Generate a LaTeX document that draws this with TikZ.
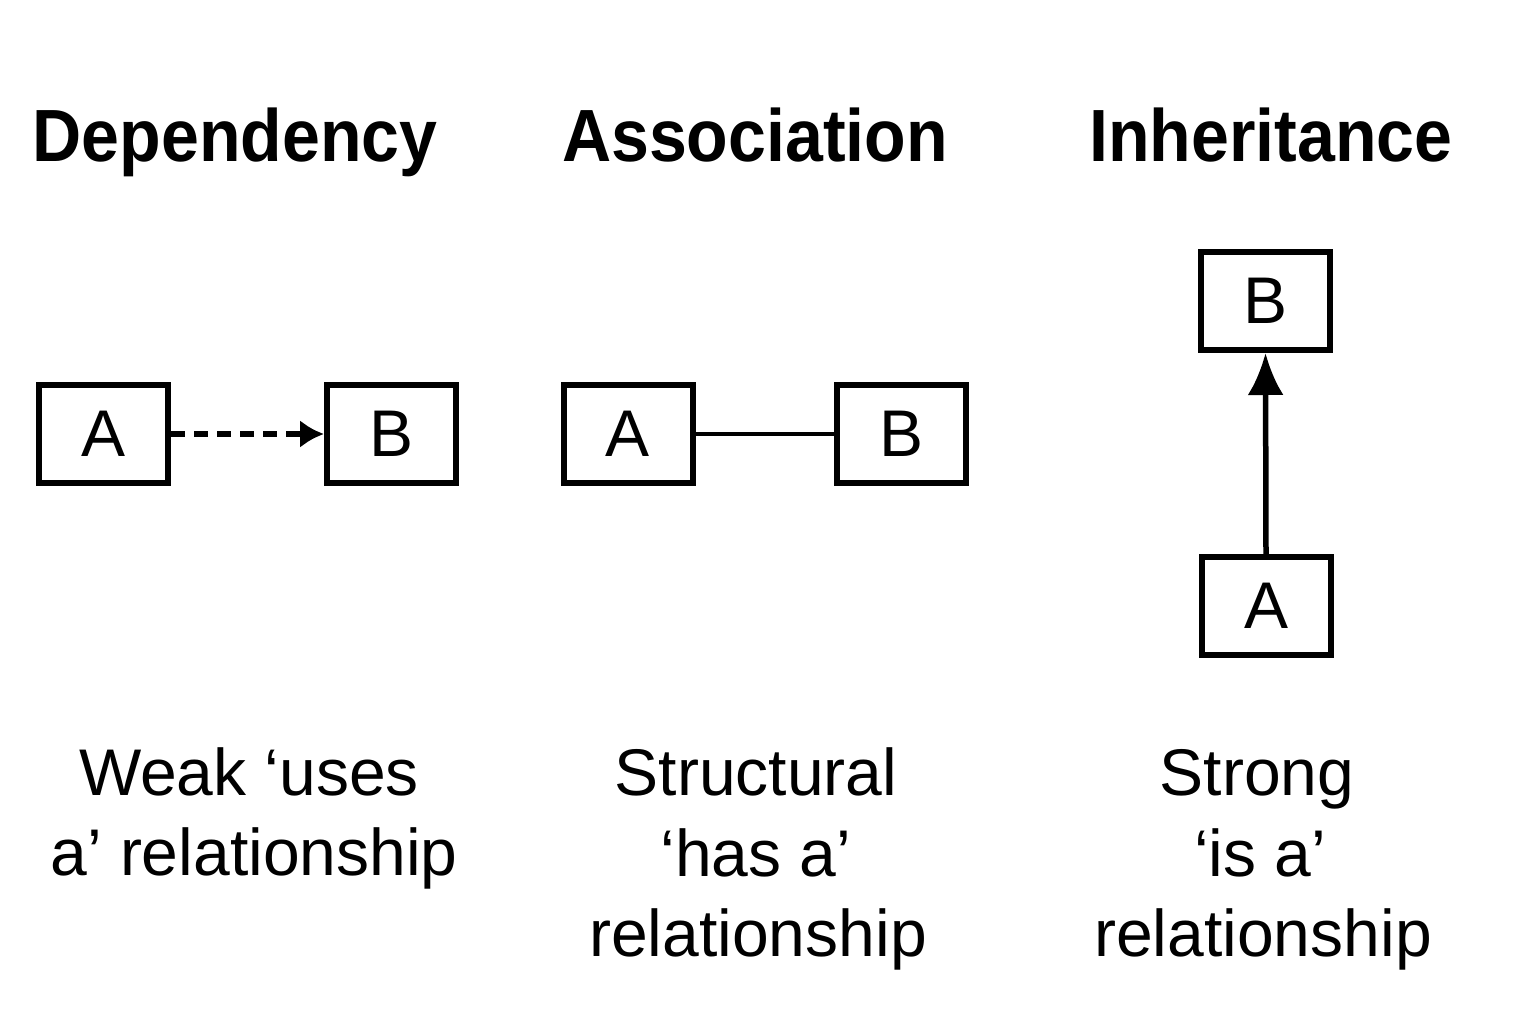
\documentclass[tikz,border=0pt]{standalone}
\usepackage{fontspec}
\setmainfont{Liberation Sans}
\newfontfamily\titlefont[FakeStretch=0.92]{Liberation Sans}
\usetikzlibrary{arrows.meta}
\begin{document}
\begin{tikzpicture}[x=1pt,y=-1pt,
  box/.style={draw,line width=6pt,minimum width=129pt,minimum height=98pt,inner sep=0pt,
    font=\fontsize{66}{70}\selectfont},
  title/.style={anchor=base,inner sep=0pt,font=\titlefont\bfseries\fontsize{74}{80}\selectfont},
  caption/.style={anchor=base,inner sep=0pt,font=\fontsize{66}{70}\selectfont},
  link/.style={line width=5.5pt}
]
\useasboundingbox (0,0) rectangle (1536,1024);
\fill[white] (0,0) rectangle (1536,1024);

% titles
\node[title] (t1) at (235,162) {Dependency};
\node[title] (t2) at (755,162) {Association};
\node[title] (t3) at (1271,162) {Inheritance};

% dependency
\node[box] (dA) at (103.5,434) {A};
\node[box] (dB) at (391.5,434) {B};
\draw[link,dash pattern=on 14pt off 9pt,-{Latex[length=24pt,width=28pt]}] (dA.east) -- (dB.west);

% association
\node[box] (aA) at (628,434) {A};
\node[box] (aB) at (901,434) {B};
\draw[line width=4pt] (aA.east) -- (aB.west);

% inheritance
\node[box] (iB) at (1265.5,301) {B};
\node[box] (iA) at (1266,606) {A};
\draw[link,-{Latex[length=42pt,width=36pt]}] (iA.north) -- (iB.south);

% captions
\node[caption] (c11) at (249,795) {Weak ‘uses};
\node[caption] (c12) at (254,875) {a’ relationship};
\node[caption] (c21) at (756,795) {Structural};
\node[caption] (c22) at (756,876) {‘has a’};
\node[caption] (c23) at (758,956) {relationship};
\node[caption] (c31) at (1257,795) {Strong};
\node[caption] (c32) at (1260,876) {‘is a’};
\node[caption] (c33) at (1263,956) {relationship};
\end{tikzpicture}
\end{document}
